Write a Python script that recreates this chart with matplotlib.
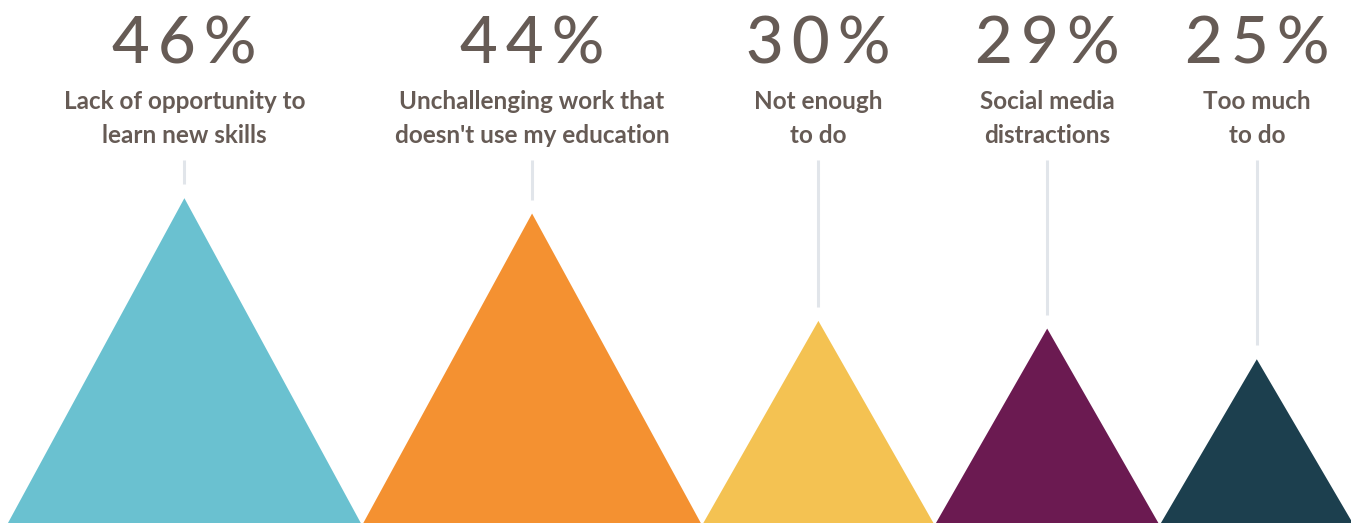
import matplotlib.pyplot as plt
from matplotlib.patches import Polygon

# data
values = [46, 44, 30, 29, 25]
pct_labels = ['46%', '44%', '30%', '29%', '25%']
labels_top = ['Lack of opportunity to', 'Unchallenging work that', 'Not enough',
              'Social media', 'Too much']
labels_bottom = ['learn new skills', "doesn't use my education", 'to do',
                 'distractions', 'to do']
colors = ['#6AC1D0', '#F49131', '#F4C252', '#6B1A51', '#1C3F4E']

txt_color = '#665B55'
line_color = '#E1E5EA'
plt.rcParams['font.family'] = ['Lato', 'DejaVu Sans']

W, H = 1351, 523
scale = 7.67            # pixels per percentage point
peak_offset = 3.65      # apex sits a little below the value
gap = 0.33
start = 1.04

fig = plt.figure(figsize=(W / 100, H / 100), dpi=100)
ax = fig.add_axes([0, 0, 1, 1])
ax.set_xlim(0, W / scale)
ax.set_ylim(0, H / scale)
ax.axis('off')

def py(pix):
    # pixel row from top -> data y
    return (H - pix) / scale

x0 = start
for v, c, pl, l1, l2 in zip(values, colors, pct_labels, labels_top, labels_bottom):
    cx = x0 + v / 2
    top = v - peak_offset
    ax.add_patch(Polygon([(x0, 0), (x0 + v, 0), (cx, top)], closed=True,
                         facecolor=c, edgecolor='none'))
    ax.plot([cx, cx], [py(160), top + 14 / scale], color=line_color, lw=2.2,
            solid_capstyle='butt')
    spaced = '\u2009'.join(pl)
    ax.text(cx, py(64), spaced, ha='center', va='baseline', fontsize=47,
            color=txt_color, fontweight='medium')
    ax.text(cx, py(109), l1, ha='center', va='baseline', fontsize=17.5,
            color=txt_color, fontweight='bold')
    ax.text(cx, py(143), l2, ha='center', va='baseline', fontsize=17.5,
            color=txt_color, fontweight='bold')
    x0 += v + gap

fig.savefig('out.png', dpi=100)
